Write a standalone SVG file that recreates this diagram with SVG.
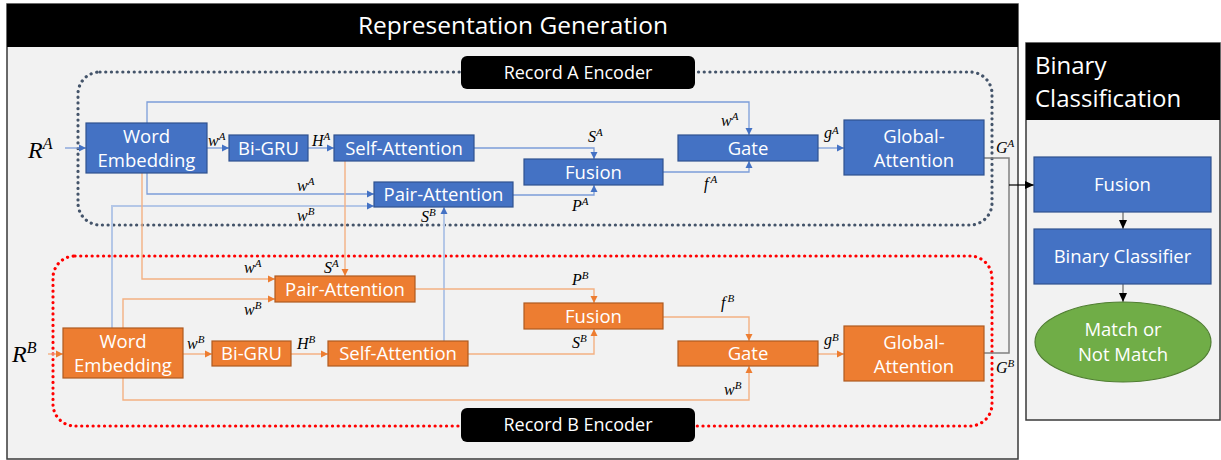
<svg xmlns="http://www.w3.org/2000/svg" width="1221" height="460" viewBox="0 0 1221 460">
<style>
.panel{fill:#F2F2F2;stroke:#3A3A3A;stroke-width:1.5}
.hdr{fill:#000}
.ht{fill:#fff;font-family:"Open Sans","Noto Sans",sans-serif}
.na{fill:#4472C4;stroke:#2F528F;stroke-width:1.2}
.nb{fill:#ED7D31;stroke:#AE5A21;stroke-width:1.2}
.ng{fill:#70AD47;stroke:#507E32;stroke-width:1.2}
.nt{fill:#fff;font-family:"Open Sans","Noto Sans",sans-serif;font-size:18.5px;text-anchor:middle}
.m{font-family:"Liberation Serif","DejaVu Serif",serif;font-style:italic;font-size:16px;fill:#000}
.s{font-size:11px}
.big{font-size:24px}
.bigs{font-size:16px}
.la{fill:none;stroke:#7C9DD9;stroke-width:1.3}
.lx{fill:none;stroke:#B4C7E7;stroke-width:2}
.lb{fill:none;stroke:#F4B183;stroke-width:1.4}
.lg{fill:none;stroke:#808080;stroke-width:1.5}
.dotA{fill:none;stroke:#44546A;stroke-width:3.2;stroke-dasharray:0.1 5.6;stroke-linecap:round}
.dotB{fill:none;stroke:#FF0000;stroke-width:3.2;stroke-dasharray:0.1 5.6;stroke-linecap:round}
</style>
<defs>
<marker id="ma" markerUnits="userSpaceOnUse" markerWidth="8" markerHeight="8" refX="7" refY="4" orient="auto"><path d="M0,0.5 L7,4 L0,7.5 Z" fill="#4472C4"/></marker>
<marker id="mb" markerUnits="userSpaceOnUse" markerWidth="8" markerHeight="8" refX="7" refY="4" orient="auto"><path d="M0,0.5 L7,4 L0,7.5 Z" fill="#ED7D31"/></marker>
<marker id="mk" markerUnits="userSpaceOnUse" markerWidth="10" markerHeight="10" refX="9" refY="5" orient="auto"><path d="M0,1 L9,5 L0,9 Z" fill="#000"/></marker>
</defs>
<rect width="1221" height="460" fill="#fff"/>

<g id="panel-rep">
<rect class="panel" x="7" y="4" width="1011" height="455"/>
<rect class="hdr" x="7" y="4" width="1011" height="43"/>
<text class="ht" x="513" y="34" font-size="24.5" text-anchor="middle">Representation Generation</text>
</g>
<g id="panel-bin">
<rect class="panel" x="1026" y="43" width="194" height="377"/>
<rect class="hdr" x="1026" y="43" width="194" height="77"/>
<text class="ht" x="1035" y="74" font-size="24">Binary</text>
<text class="ht" x="1035" y="107" font-size="24">Classification</text>
</g>

<g id="encA">
<rect class="dotA" x="78" y="72" width="914" height="153" rx="22"/>
<rect x="461" y="56" width="234" height="33" rx="6" fill="#000"/>
<text class="ht" x="578" y="79" font-size="18" text-anchor="middle">Record A Encoder</text>
</g>
<g id="encB">
<rect class="dotB" x="53" y="256" width="939" height="170" rx="22"/>
<rect x="461" y="408" width="234" height="34" rx="6" fill="#000"/>
<text class="ht" x="578" y="431" font-size="18" text-anchor="middle">Record B Encoder</text>
</g>

<g id="connectors">
<path class="la" d="M65,148 H86" marker-end="url(#ma)"/>
<path class="la" d="M207,148 H229" marker-end="url(#ma)"/>
<path class="la" d="M308,148 H334" marker-end="url(#ma)"/>
<path class="la" d="M147,123 V102 H749 V135" marker-end="url(#ma)"/>
<path class="la" d="M474,148 H594 V159" marker-end="url(#ma)"/>
<path class="la" d="M513,195 H594 V185" marker-end="url(#ma)"/>
<path class="la" d="M663,172 H749 V161" marker-end="url(#ma)"/>
<path class="la" d="M818,148 H844" marker-end="url(#ma)"/>
<path class="la" d="M147,173 V194 H374" marker-end="url(#ma)"/>
<path class="lx" d="M112,328 V206 H374" marker-end="url(#ma)"/>
<path class="lx" d="M444,341 V207" marker-end="url(#ma)"/>
<path class="lb" d="M142,173 V279 H275" marker-end="url(#mb)"/>
<path class="lb" d="M345,161 V276" marker-end="url(#mb)"/>
<path class="lb" d="M48,354 H63" marker-end="url(#mb)"/>
<path class="lb" d="M183,354 H212" marker-end="url(#mb)"/>
<path class="lb" d="M291,354 H328" marker-end="url(#mb)"/>
<path class="lb" d="M123,328 V299 H275" marker-end="url(#mb)"/>
<path class="lb" d="M415,289 H594 V303" marker-end="url(#mb)"/>
<path class="lb" d="M468,354 H594 V329" marker-end="url(#mb)"/>
<path class="lb" d="M663,317 H749 V341" marker-end="url(#mb)"/>
<path class="lb" d="M123,378 V400 H749 V366" marker-end="url(#mb)"/>
<path class="lb" d="M818,354 H844" marker-end="url(#mb)"/>
<path class="lg" d="M984,158 H1009 V353 H984"/>
<path d="M1009,185 H1034" fill="none" stroke="#000" stroke-width="1.2" marker-end="url(#mk)"/>
<path class="lg" d="M1123,212 V229" marker-end="url(#mk)"/>
<path class="lg" d="M1123,284 V302" marker-end="url(#mk)"/>
</g>

<g id="labels">
<text class="m big" x="28" y="158">R<tspan class="bigs" dy="-9">A</tspan></text>
<text class="m big" x="12" y="362">R<tspan class="bigs" dy="-9">B</tspan></text>
<text class="m" x="208" y="146">w<tspan class="s" dy="-6">A</tspan></text>
<text class="m" x="312" y="146">H<tspan class="s" dy="-6">A</tspan></text>
<text class="m" x="721" y="126">w<tspan class="s" dy="-6">A</tspan></text>
<text class="m" x="588" y="142">S<tspan class="s" dy="-6">A</tspan></text>
<text class="m" x="572" y="211">P<tspan class="s" dy="-6">A</tspan></text>
<text class="m" x="704" y="189">f<tspan class="s" dx="2" dy="-6">A</tspan></text>
<text class="m" x="824" y="138">g<tspan class="s" dy="-4">A</tspan></text>
<text class="m" x="996" y="153">G<tspan class="s" dy="-6">A</tspan></text>
<text class="m" x="297" y="191">w<tspan class="s" dy="-6">A</tspan></text>
<text class="m" x="297" y="221">w<tspan class="s" dy="-6">B</tspan></text>
<text class="m" x="421" y="222">S<tspan class="s" dy="-6">B</tspan></text>
<text class="m" x="244" y="273">w<tspan class="s" dy="-6">A</tspan></text>
<text class="m" x="324" y="273">S<tspan class="s" dy="-6">A</tspan></text>
<text class="m" x="244" y="315">w<tspan class="s" dy="-6">B</tspan></text>
<text class="m" x="187" y="349">w<tspan class="s" dy="-6">B</tspan></text>
<text class="m" x="297" y="349">H<tspan class="s" dy="-6">B</tspan></text>
<text class="m" x="572" y="285">P<tspan class="s" dy="-6">B</tspan></text>
<text class="m" x="572" y="348">S<tspan class="s" dy="-6">B</tspan></text>
<text class="m" x="721" y="308">f<tspan class="s" dx="2" dy="-6">B</tspan></text>
<text class="m" x="724" y="395">w<tspan class="s" dy="-6">B</tspan></text>
<text class="m" x="824" y="345">g<tspan class="s" dy="-4">B</tspan></text>
<text class="m" x="996" y="373">G<tspan class="s" dy="-6">B</tspan></text>
</g>

<g id="we-a"><rect class="na" x="86" y="123" width="121" height="50"/><text class="nt" x="146.5" y="143">Word</text><text class="nt" x="146.5" y="167">Embedding</text></g>
<g id="bigru-a"><rect class="na" x="229" y="135" width="79" height="26"/><text class="nt" x="268.5" y="155">Bi-GRU</text></g>
<g id="self-a"><rect class="na" x="334" y="135" width="140" height="26"/><text class="nt" x="404" y="155">Self-Attention</text></g>
<g id="pair-a"><rect class="na" x="374" y="182" width="139" height="25"/><text class="nt" x="443.5" y="201">Pair-Attention</text></g>
<g id="fusion-a"><rect class="na" x="524" y="159" width="139" height="26"/><text class="nt" x="593.5" y="179">Fusion</text></g>
<g id="gate-a"><rect class="na" x="678" y="135" width="140" height="26"/><text class="nt" x="748" y="155">Gate</text></g>
<g id="global-a"><rect class="na" x="844" y="120" width="140" height="55"/><text class="nt" x="914" y="143">Global-</text><text class="nt" x="914" y="167">Attention</text></g>

<g id="we-b"><rect class="nb" x="63" y="328" width="120" height="50"/><text class="nt" x="123" y="348">Word</text><text class="nt" x="123" y="372">Embedding</text></g>
<g id="bigru-b"><rect class="nb" x="212" y="341" width="79" height="25"/><text class="nt" x="251.5" y="360">Bi-GRU</text></g>
<g id="self-b"><rect class="nb" x="328" y="341" width="140" height="25"/><text class="nt" x="398" y="360">Self-Attention</text></g>
<g id="pair-b"><rect class="nb" x="275" y="276" width="140" height="26"/><text class="nt" x="345" y="296">Pair-Attention</text></g>
<g id="fusion-b"><rect class="nb" x="524" y="303" width="139" height="26"/><text class="nt" x="593.5" y="323">Fusion</text></g>
<g id="gate-b"><rect class="nb" x="678" y="341" width="140" height="25"/><text class="nt" x="748" y="360">Gate</text></g>
<g id="global-b"><rect class="nb" x="844" y="326" width="140" height="55"/><text class="nt" x="914" y="349">Global-</text><text class="nt" x="914" y="373">Attention</text></g>

<g id="fusion-c"><rect class="na" x="1034" y="157" width="177" height="55"/><text class="nt" x="1122.5" y="191">Fusion</text></g>
<g id="classifier"><rect class="na" x="1034" y="229" width="177" height="55"/><text class="nt" x="1122.5" y="263">Binary Classifier</text></g>
<g id="result"><ellipse class="ng" cx="1123" cy="342" rx="88" ry="40"/><text class="nt" x="1123" y="336">Match or</text><text class="nt" x="1123" y="361">Not Match</text></g>
</svg>
